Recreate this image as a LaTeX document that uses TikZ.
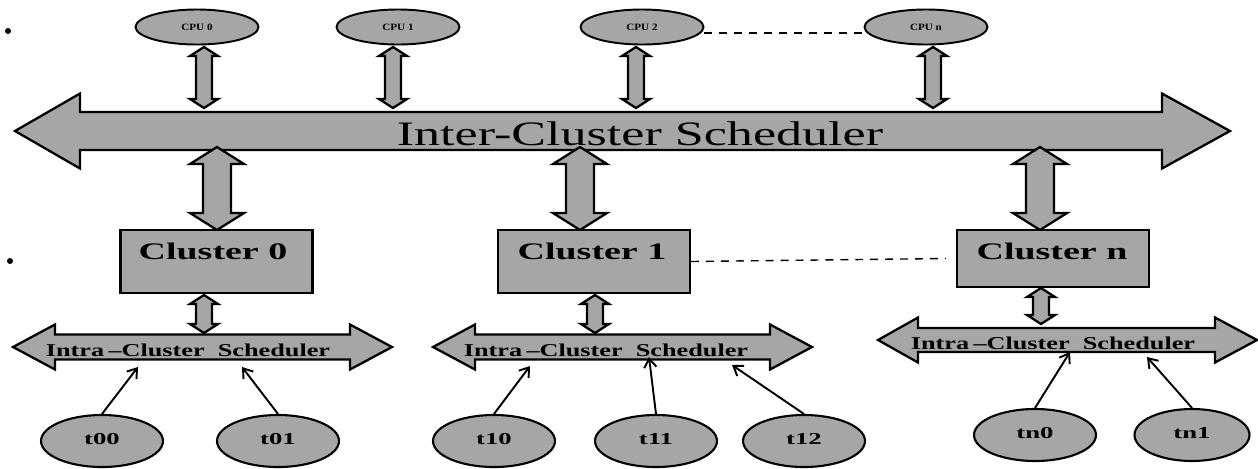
\documentclass[tikz,border=0pt]{standalone}
\usepackage{fontspec}
\setmainfont{Liberation Serif}
\usepackage{graphicx}
\usetikzlibrary{arrows.meta,shapes.geometric}
\definecolor{shapegray}{RGB}{166,166,166}

% vertical double fat arrow: x, top tip y, bottom tip y, shaft half width, head half width, head length
\newcommand\vfat[6]{%
  \filldraw[fatline] (#1,#2) -- ({#1+#5},{#2+#6}) -- ({#1+#4},{#2+#6}) -- ({#1+#4},{#3-#6})
    -- ({#1+#5},{#3-#6}) -- (#1,#3) -- ({#1-#5},{#3-#6}) -- ({#1-#4},{#3-#6})
    -- ({#1-#4},{#2+#6}) -- ({#1-#5},{#2+#6}) -- cycle;}
% horizontal double fat arrow (bus): left tip x, left head back x, right head back x, right tip x, centre y, shaft half, head half
\newcommand\hbus[7]{%
  \filldraw[fatline] (#1,#5) -- (#2,{#5-#7}) -- (#2,{#5-#6}) -- (#3,{#5-#6}) -- (#3,{#5-#7})
    -- (#4,#5) -- (#3,{#5+#7}) -- (#3,{#5+#6}) -- (#2,{#5+#6}) -- (#2,{#5+#7}) -- cycle;}
\newcommand\wide[2]{\scalebox{#1}[1]{#2}}
% task label, set a little above and left of the ellipse centre
\newcommand\tlabel[1]{\raisebox{0.07cm}{\wide{1.6}{#1}}\hspace{0.3cm}}

\begin{document}
\begin{tikzpicture}[x=0.02cm,y=-0.02cm,
  fatline/.style={draw=black,fill=shapegray,line width=1.3pt,line join=miter},
  cpu/.style={ellipse,draw=black,fill=shapegray,line width=1.1pt,minimum width=2.46cm,minimum height=0.7cm,inner sep=0pt,font=\bfseries\fontsize{5.5}{6}\selectfont},
  task/.style={ellipse,draw=black,fill=shapegray,line width=1.2pt,minimum width=2.44cm,minimum height=1.04cm,inner sep=0pt,font=\bfseries\fontsize{9.5}{10}\selectfont},
  clusterbox/.style={rectangle,draw=black,fill=shapegray,line width=1.2pt,minimum width=3.84cm,inner sep=0pt},
  clustertext/.style={font=\bfseries\fontsize{13.5}{14}\selectfont,inner sep=0pt},
  intertext/.style={font=\fontsize{19.5}{21}\selectfont,inner sep=0pt},
  intratext/.style={font=\bfseries\fontsize{10.3}{12}\selectfont,inner sep=0pt},
  dotmark/.style={circle,fill=black,inner sep=0pt,minimum size=0.12cm},
  linkdash/.style={draw=black,line width=0.8pt,dash pattern=on 4.5pt off 4pt},
  taskarrow/.style={draw=black,line width=1.1pt,-{Straight Barb[length=5pt,width=7pt,line width=1.1pt]}}
]
\useasboundingbox[fill=white] (0,0) rectangle (1258,468);

% margin bullets
\node[dotmark] (dot1) at (8,31) {};
\node[dotmark] (dot2) at (10,261) {};

% processors
\node[cpu] (cpu0) at (197,27) {\wide{1.15}{CPU 0}};
\node[cpu] (cpu1) at (398,27) {\wide{1.15}{CPU 1}};
\node[cpu] (cpu2) at (642,27) {\wide{1.15}{CPU 2}};
\node[cpu] (cpun) at (926,27) {\wide{1.15}{CPU n}};
\draw[linkdash] ([yshift=-0.12cm]cpu2.east) -- ([yshift=-0.12cm]cpun.west);

% processor <-> inter-cluster scheduler links
\vfat{204}{47}{108}{8}{14}{9}
\vfat{393}{47}{108}{8}{14}{9}
\vfat{636}{47}{108}{8}{14}{9}
\vfat{933}{47}{108}{8}{14}{9}

% inter-cluster scheduler bus
\hbus{15}{80}{1162}{1230}{131}{19}{37.5}
\node[intertext] (inter) at (640,134) {\wide{1.52}{Inter-Cluster Scheduler}};

% scheduler <-> cluster links
\vfat{217}{147}{230}{14}{27}{17}
\vfat{580}{147}{230}{14}{27}{17}
\vfat{1040}{147}{230}{14}{27}{17}

% clusters
\node[clusterbox,minimum height=1.26cm] (c0) at (216.5,261.5) {};
\node[clusterbox,minimum height=1.26cm] (c1) at (594,261.5) {};
\node[clusterbox,minimum height=1.14cm] (cn) at (1053,258.5) {};
\node[clustertext] (c0t) at (213,251) {\wide{1.6}{Cluster 0}};
\node[clustertext] (c1t) at (592,251) {\wide{1.6}{Cluster 1}};
\node[clustertext] (cnt) at (1052,251) {\wide{1.6}{Cluster n}};
\draw[linkdash] (c1.east) -- ([xshift=-0.2cm]cn.west);

% cluster <-> intra-cluster scheduler links
\vfat{204}{295}{333}{8}{14}{9}
\vfat{595}{295}{333}{8}{14}{9}
\vfat{1041}{288}{324}{8}{14}{9}

% intra-cluster scheduler buses
\hbus{13}{55}{350}{392}{347}{12.5}{22.5}
\hbus{433}{475}{770}{812}{347}{12.5}{22.5}
\hbus{878}{918}{1215}{1257}{340}{12}{22.5}
\node[intratext] (s0) at (188,350) {\wide{1.45}{Intra\,–Cluster\ \ Scheduler}};
\node[intratext] (s1) at (606,350) {\wide{1.45}{Intra\,–Cluster\ \ Scheduler}};
\node[intratext] (sn) at (1053,343) {\wide{1.45}{Intra\,–Cluster\ \ Scheduler}};

% arrow targets on the buses
\coordinate (s0a) at (138,367);
\coordinate (s0b) at (242,367);
\coordinate (s1a) at (530,366);
\coordinate (s1b) at (649,357);
\coordinate (s1c) at (732,365);
\coordinate (sna) at (1070,352);
\coordinate (snb) at (1147,357);

% tasks
\node[task] (t00) at (102,441) {\tlabel{t00}};
\node[task] (t01) at (278,441) {\tlabel{t01}};
\node[task] (t10) at (494,441) {\tlabel{t10}};
\node[task] (t11) at (656,441) {\tlabel{t11}};
\node[task] (t12) at (804,441) {\tlabel{t12}};
\node[task] (tn0) at (1035,435) {\tlabel{tn0}};
\node[task,minimum width=2.3cm] (tn1) at (1192,435) {\tlabel{tn1}};

\draw[taskarrow] (t00.north) -- (s0a);
\draw[taskarrow] (t01.north) -- (s0b);
\draw[taskarrow] (t10.north) -- (s1a);
\draw[taskarrow] (t11.north) -- (s1b);
\draw[taskarrow] (t12.north) -- (s1c);
\draw[taskarrow] (tn0.north) -- (sna);
\draw[taskarrow] (tn1.north) -- (snb);
\end{tikzpicture}
\end{document}
